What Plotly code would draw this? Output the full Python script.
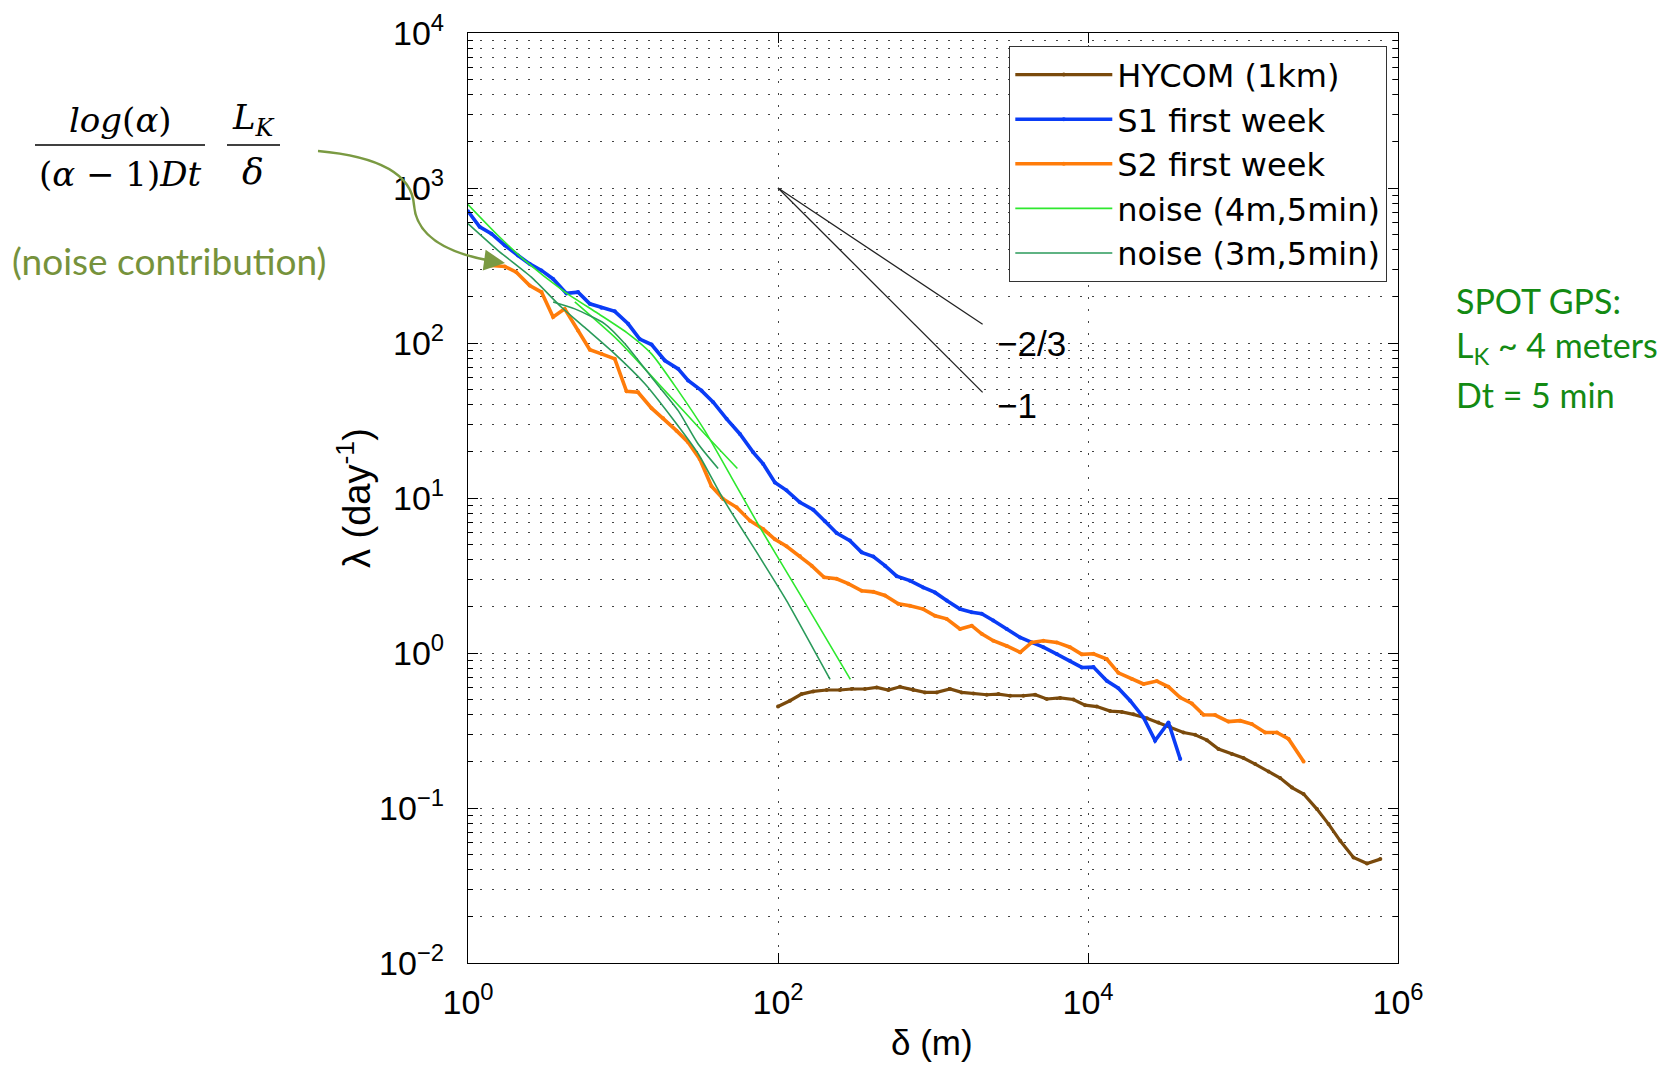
import plotly.graph_objects as go

# ---------------- data ----------------
hycom_x = [100, 119.4, 141.9, 168.7, 206.1, 251.2, 298.5, 363.9, 433.5, 515.2, 612.4, 746.5,
           887.2, 1057, 1288, 1531, 1824, 2223, 2642, 3141, 3828, 4560, 5420, 6607, 8054,
           9572, 11400, 13900, 16520, 19630, 23990, 28440, 33880, 41300, 49090, 58480,
           69500, 84720, 100700, 119900, 146200, 173800, 207000, 246000, 299900, 356500,
           423600, 516400, 631000, 769100]
hycom_y = [0.452, 0.492, 0.543, 0.565, 0.577, 0.577, 0.586, 0.586, 0.600, 0.577, 0.605, 0.577,
           0.557, 0.557, 0.586, 0.557, 0.548, 0.538, 0.543, 0.530, 0.530, 0.538, 0.505, 0.513,
           0.501, 0.461, 0.451, 0.422, 0.417, 0.402, 0.379, 0.356, 0.334, 0.307, 0.297, 0.274,
           0.240, 0.223, 0.210, 0.192, 0.172, 0.156, 0.1355, 0.123, 0.0984, 0.0787, 0.0614,
           0.0479, 0.0439, 0.0468]

s1_x = [1.0, 1.189, 1.416, 1.726, 2.104, 2.5, 2.979, 3.54, 4.315, 5.129, 6.109, 7.261, 8.851,
        10.79, 12.82, 15.28, 18.62, 22.7, 26.3, 32.1, 38.2, 46.6, 56.8, 69.2, 80.2, 95.5,
        113.5, 138.4, 168.7, 200.9, 238.8, 291.1, 346.7, 412.1, 489.8, 583.4, 709.6, 865,
        1030, 1225, 1493, 1778, 2061, 2449, 2992, 3648, 4335, 5152, 6295, 7656, 9120, 10840,
        13210, 15700, 18710, 22800, 27100, 33040, 39360]
s1_y = [708, 562, 507, 427, 367, 324, 294, 259, 209, 213, 179, 169, 160, 133, 106, 97.7, 77.1,
        68.1, 57.3, 49.3, 41.5, 32.4, 25.9, 19.7, 16.6, 12.6, 11.2, 9.38, 8.41, 7.08, 5.94,
        5.31, 4.46, 4.19, 3.66, 3.13, 2.93, 2.65, 2.46, 2.18, 1.92, 1.83, 1.79, 1.62, 1.43,
        1.26, 1.17, 1.09, 0.984, 0.891, 0.807, 0.811, 0.662, 0.593, 0.492, 0.384, 0.272,
        0.356, 0.207]

s2_x = [1.416, 1.726, 2.051, 2.5, 2.979, 3.54, 4.207, 5.129, 6.109, 7.261, 8.851, 10.54, 12.5,
        15.28, 18.16, 22.13, 26.3, 31.33, 37.24, 44.26, 54.08, 65.92, 80.17, 95.5, 113.5,
        138.4, 164.8, 198.2, 238.8, 283.8, 346.7, 412.1, 489.8, 597, 709.6, 865, 1030, 1225,
        1493, 1778, 2061, 2449, 2992, 3648, 4335, 5152, 6295, 7656, 9120, 10840, 13210,
        15700, 19190, 22800, 27800, 33040, 39360, 46770, 55590, 66070, 80540, 95940, 114000,
        139000, 165600, 196800, 246000]
s2_y = [316, 312, 286, 235, 213, 147, 166, 120.5, 90.4, 85.1, 79.1, 48.8, 48.1, 38.0, 32.7,
        27.2, 22.9, 17.8, 11.9, 9.86, 8.71, 7.14, 6.31, 5.41, 4.88, 4.22, 3.66, 3.08, 3.01,
        2.80, 2.52, 2.48, 2.35, 2.08, 2.02, 1.92, 1.74, 1.66, 1.43, 1.50, 1.33, 1.20, 1.11,
        1.01, 1.17, 1.20, 1.17, 1.09, 0.98, 0.989, 0.914, 0.745, 0.679, 0.631, 0.659, 0.605,
        0.516, 0.473, 0.400, 0.398, 0.361, 0.366, 0.348, 0.307, 0.307, 0.279, 0.1995]

noise4_a_x = [1, 1.563, 2.323, 4.207, 6.902, 10.79, 15.28, 22.7, 33.7, 50.1, 76.4, 138.4, 293]
noise4_a_y = [783, 494, 341, 214, 155, 115, 85.1, 49.3, 27.2, 13.6, 6.47, 2.40, 0.676]
noise4_b_x = [4.887, 9.29, 18.62, 33.7, 54.7]
noise4_b_y = [184, 104, 49.3, 25.9, 15.5]

noise3_a_x = [1, 1.563, 2.564, 4.009, 5.662, 8.851, 13.84, 20.56, 30.55, 44.26, 76.4, 113.5, 216.8]
noise3_a_y = [589, 395, 266, 170, 126, 85.1, 54.6, 33.2, 19.3, 9.86, 4.14, 2.18, 0.676]
noise3_b_x = [3.54, 4.887, 7.62, 10.28, 15.28, 22.7, 30.55, 41.1]
noise3_b_y = [184, 166, 133, 98.9, 60.1, 36.6, 22.3, 15.5]

slope_x = [100, 2090]
slope23_y = [1000, 132]
slope1_y = [1000, 48]

x_tickvals = [1, 1e2, 1e4, 1e6]
x_ticktext = ["10<sup>0</sup>", "10<sup>2</sup>", "10<sup>4</sup>", "10<sup>6</sup>"]
y_tickvals = [1e-2, 1e-1, 1, 10, 100, 1e3, 1e4]
y_ticktext = ["10<sup>−2</sup>", "10<sup>−1</sup>", "10<sup>0</sup>", "10<sup>1</sup>",
              "10<sup>2</sup>", "10<sup>3</sup>", "10<sup>4</sup>"]
y_minor = [m * 10.0 ** k for k in range(-2, 4) for m in range(2, 10)]

# ---------------- styling ----------------
C_BROWN = "#7a4a0c"
C_BLUE = "#0a3cf6"
C_ORANGE = "#ff7c0a"
C_LGREEN = "#2ee82e"
C_DGREEN = "#2a9a5a"
FONT = "Liberation Sans, Arial, sans-serif"
LEGFONT = "DejaVu Sans, Liberation Sans, sans-serif"
SERIF = "DejaVu Serif, Liberation Serif, serif"
NOTE = "Lato, Open Sans, sans-serif"

W, H = 1673, 1066
ML, MR, MT, MB = 468, 275, 33, 103
PW, PH = W - ML - MR, H - MT - MB


def paper(px, py):
    return (px - ML) / PW, (H - MB - py) / PH


fig = go.Figure()

fig.add_trace(go.Scatter(x=hycom_x, y=hycom_y, name="HYCOM (1km)", mode="lines+markers",
                         line=dict(color=C_BROWN, width=3.2), marker=dict(size=4, color=C_BROWN)))
fig.add_trace(go.Scatter(x=s1_x, y=s1_y, name="S1 first week", mode="lines+markers",
                         line=dict(color=C_BLUE, width=3.6), marker=dict(size=4, color=C_BLUE)))
fig.add_trace(go.Scatter(x=s2_x, y=s2_y, name="S2 first week", mode="lines+markers",
                         line=dict(color=C_ORANGE, width=3.6), marker=dict(size=4, color=C_ORANGE)))
fig.add_trace(go.Scatter(x=noise4_a_x, y=noise4_a_y, name="noise (4m,5min)", mode="lines",
                         line=dict(color=C_LGREEN, width=1.6, shape="spline", smoothing=0.6),
                         legendgroup="n4"))
fig.add_trace(go.Scatter(x=noise3_a_x, y=noise3_a_y, name="noise (3m,5min)", mode="lines",
                         line=dict(color=C_DGREEN, width=1.6, shape="spline", smoothing=0.6),
                         legendgroup="n3"))
fig.add_trace(go.Scatter(x=noise4_b_x, y=noise4_b_y, mode="lines", showlegend=False,
                         line=dict(color=C_LGREEN, width=1.6, shape="spline", smoothing=0.6),
                         legendgroup="n4"))
fig.add_trace(go.Scatter(x=noise3_b_x, y=noise3_b_y, mode="lines", showlegend=False,
                         line=dict(color=C_DGREEN, width=1.6, shape="spline", smoothing=0.6),
                         legendgroup="n3"))
fig.add_trace(go.Scatter(x=slope_x, y=slope23_y, mode="lines", showlegend=False,
                         line=dict(color="#222222", width=1.3)))
fig.add_trace(go.Scatter(x=slope_x, y=slope1_y, mode="lines", showlegend=False,
                         line=dict(color="#222222", width=1.3)))

grid_common = dict(gridcolor="#444444", gridwidth=1, griddash="2px,10px")

fig.update_xaxes(type="log", range=[0, 6], tickmode="array", tickvals=x_tickvals,
                 ticktext=x_ticktext, ticks="inside", ticklen=10, tickcolor="black",
                 showline=True, linecolor="black", linewidth=1.3, mirror="ticks",
                 showgrid=True, zeroline=False, ticklabelstandoff=9,
                 tickfont=dict(family=FONT, size=34, color="black"), **grid_common)
fig.update_yaxes(type="log", range=[-2, 4], tickmode="array", tickvals=y_tickvals,
                 ticktext=y_ticktext, ticks="inside", ticklen=10, tickcolor="black",
                 showline=True, linecolor="black", linewidth=1.3, mirror="ticks",
                 showgrid=True, zeroline=False, ticklabelstandoff=16,
                 tickfont=dict(family=FONT, size=34, color="black"),
                 minor=dict(tickmode="array", tickvals=y_minor, ticks="inside", ticklen=5,
                            tickcolor="black", showgrid=True, gridcolor="#444444",
                            gridwidth=1, griddash="2px,10px"),
                 **grid_common)

lx, ly = paper(1009, 46)
fig.update_layout(
    width=W, height=H,
    margin=dict(l=ML, r=MR, t=MT, b=MB, autoexpand=False),
    paper_bgcolor="white", plot_bgcolor="white",
    showlegend=True,
    legend=dict(x=lx, y=ly, xanchor="left", yanchor="top", bgcolor="white",
                bordercolor="#333333", borderwidth=1.3, itemwidth=97,
                font=dict(family=LEGFONT, size=32, color="black"), tracegroupgap=0),
)

annotations = []
shapes = []


def text(px, py, s, size, color="black", family=FONT, xanchor="center", angle=0):
    x, y = paper(px, py)
    annotations.append(dict(x=x, y=y, xref="paper", yref="paper", text=s, showarrow=False,
                            xanchor=xanchor, yanchor="middle", textangle=angle,
                            font=dict(family=family, size=size, color=color)))


# axis titles
text(932, 1042, "δ (m)", 35)
text(354, 498, "λ (day<sup>-1</sup>)", 38, angle=-90)

# slope labels
text(995, 343, "−2/3", 35, xanchor="left")
text(995, 405, "−1", 35, xanchor="left")

# formula
text(120, 120, "<i>log</i>(<i>α</i>)", 34, family=SERIF)
text(120, 174, "(<i>α</i> − 1)<i>Dt</i>", 34, family=SERIF)
text(253, 120, "<i>L<sub>K</sub></i>", 34, family=SERIF)
text(253, 172, "<i>δ</i>", 36, family=SERIF)
for (x0, x1) in [(35, 205), (227, 280)]:
    a0, b0 = paper(x0, 145)
    a1, b1 = paper(x1, 145)
    shapes.append(dict(type="line", xref="paper", yref="paper", x0=a0, y0=b0, x1=a1, y1=b1,
                       line=dict(color="black", width=1.3)))

# noise contribution note
text(10, 260, "(noise contribution)", 37, color="#76923c", family=NOTE, xanchor="left")

# SPOT GPS note
text(1454, 300, "SPOT GPS:", 34, color="#138a13", family=NOTE, xanchor="left")
text(1454, 347, "L<sub>K</sub> ~ 4 meters", 34, color="#138a13", family=NOTE, xanchor="left")
text(1454, 394, "Dt = 5 min", 34, color="#138a13", family=NOTE, xanchor="left")

# curved arrow
pts = [(318, 151), (385, 157), (412, 178), (414, 205), (416, 232), (440, 252), (492, 261)]
pp = [paper(*p) for p in pts]
path = "M {:.5f},{:.5f} C {:.5f},{:.5f} {:.5f},{:.5f} {:.5f},{:.5f} C {:.5f},{:.5f} {:.5f},{:.5f} {:.5f},{:.5f}".format(
    *[c for p in pp for c in p])
shapes.append(dict(type="path", xref="paper", yref="paper", path=path,
                   line=dict(color="#7a9a42", width=2.5)))
tx, ty = paper(505, 263)
annotations.append(dict(x=tx, y=ty, xref="paper", yref="paper", text="", showarrow=True,
                        ax=-22, ay=-3, arrowhead=2, arrowsize=1.4, arrowwidth=3,
                        arrowcolor="#7a9a42", standoff=0))

fig.update_layout(annotations=annotations, shapes=shapes)

fig.write_html("out.html")
